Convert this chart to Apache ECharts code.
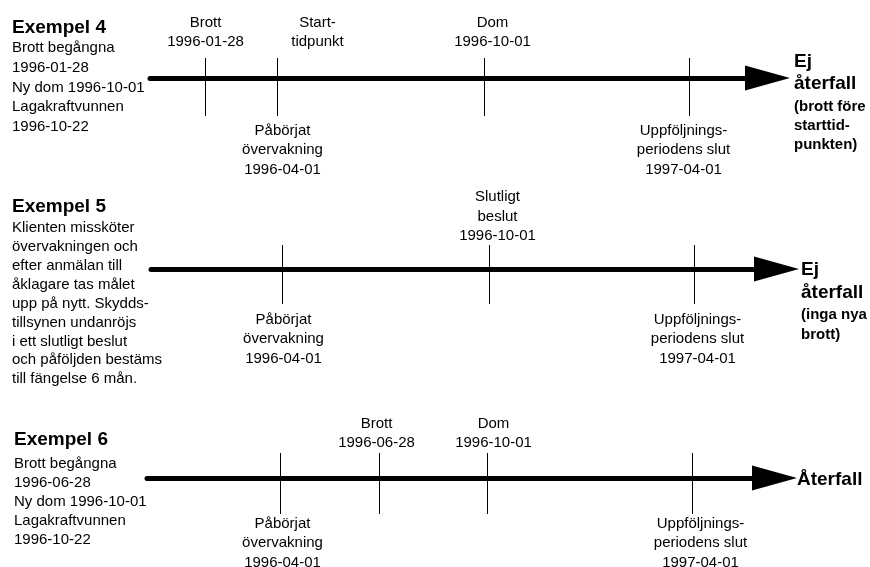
<!DOCTYPE html>
<html><head><meta charset="utf-8">
<script src="https://cdn.jsdelivr.net/npm/echarts@6/dist/echarts.min.js"></script>
<style>html,body{margin:0;padding:0;background:#fff}#c{width:870px;height:567px}</style>
</head><body><div id="c"></div>
<script>
// ---------------- data ----------------
const ex4Title = 'Exempel 4';
const ex4Text = ['Brott begångna', '1996-01-28', 'Ny dom 1996-10-01', 'Lagakraftvunnen', '1996-10-22'];
const ex4Dates = ['1996-01-28', '1996-04-01', '1996-10-01', '1997-04-01'];
const ex4Above = ['Brott\n1996-01-28', 'Start-\ntidpunkt', 'Dom\n1996-10-01', ''];
const ex4Below = ['', 'Påbörjat\növervakning\n1996-04-01', '', 'Uppföljnings-\nperiodens slut\n1997-04-01'];
const ex4Outcome = ['Ej', 'återfall'];
const ex4Note = ['(brott före', 'starttid-', 'punkten)'];

const ex5Title = 'Exempel 5';
const ex5Text = ['Klienten missköter', 'övervakningen och', 'efter anmälan till', 'åklagare tas målet',
  'upp på nytt. Skydds-', 'tillsynen undanröjs', 'i ett slutligt beslut', 'och påföljden bestäms', 'till fängelse 6 mån.'];
const ex5Dates = ['1996-04-01', '1996-10-01', '1997-04-01'];
const ex5Above = ['', 'Slutligt\nbeslut\n1996-10-01', ''];
const ex5Below = ['Påbörjat\növervakning\n1996-04-01', '', 'Uppföljnings-\nperiodens slut\n1997-04-01'];
const ex5Outcome = ['Ej', 'återfall'];
const ex5Note = ['(inga nya', 'brott)'];

const ex6Title = 'Exempel 6';
const ex6Text = ['Brott begångna', '1996-06-28', 'Ny dom 1996-10-01', 'Lagakraftvunnen', '1996-10-22'];
const ex6Dates = ['1996-04-01', '1996-06-28', '1996-10-01', '1997-04-01'];
const ex6Above = ['', 'Brott\n1996-06-28', 'Dom\n1996-10-01', ''];
const ex6Below = ['Påbörjat\növervakning\n1996-04-01', '', '', 'Uppföljnings-\nperiodens slut\n1997-04-01'];
const ex6Outcome = ['Återfall'];
const ex6Note = [];

const followUpStart = '1996-04-01';

// ---------------- layout / style ----------------
const FONT = '"Liberation Sans", Arial, Helvetica, sans-serif';
const PX_PER_DAY = 1.13, ARROW_LEN = 45, ARROW_W = 25, DAY = 864e5;
const LABEL_FONT = '15px ' + FONT, LABEL_LH = 19.5;
const TEXT_DY = 2;

const panels = [
  { title: ex4Title, text: ex4Text, dates: ex4Dates, above: ex4Above, below: ex4Below, outcome: ex4Outcome, note: ex4Note,
    lineY: 78, left: 150, tip: 790, anchorPx: 277, aboveDx: [0, 40, 8, 0], belowDx: [0, 5, 0, -6],
    aboveOff: -28, belowOff: 41, tickTop: -20, tickBot: 38,
    textX: 12, titleY: 26, textY: 46, textLH: 19.7,
    outX: 794, outY: 60, outLH: 22, noteY: 105, noteLH: 19 },
  { title: ex5Title, text: ex5Text, dates: ex5Dates, above: ex5Above, below: ex5Below, outcome: ex5Outcome, note: ex5Note,
    lineY: 269, left: 151, tip: 799, anchorPx: 282, aboveDx: [0, 8, 0], belowDx: [1, 0, 3],
    aboveOff: -25, belowOff: 39, tickTop: -24, tickBot: 35,
    textX: 12, titleY: 205, textY: 226, textLH: 18.9,
    outX: 801, outY: 268, outLH: 23, noteY: 313, noteLH: 20 },
  { title: ex6Title, text: ex6Text, dates: ex6Dates, above: ex6Above, below: ex6Below, outcome: ex6Outcome, note: ex6Note,
    lineY: 478, left: 147, tip: 797, anchorPx: 280, aboveDx: [0, -3, 6, 0], belowDx: [2, 0, 0, 8],
    aboveOff: -27, belowOff: 34, tickTop: -25, tickBot: 36,
    textX: 14, titleY: 438, textY: 462, textLH: 19,
    outX: 797, outY: 478, outLH: 22, noteY: 0, noteLH: 19 }
];

function localTime(s) { const a = s.split('-').map(Number); return new Date(a[0], a[1] - 1, a[2]).getTime(); }
const anchorT = localTime(followUpStart);

const grid = [], xAxis = [], yAxis = [], series = [], gfx = [];

function txt(text, x, yCenter, font, lh, align) {
  return { type: 'text', silent: true, style: { text: text, x: x, y: yCenter - lh / 2 + TEXT_DY, font: font, lineHeight: lh,
    fill: '#000', textAlign: align || 'left', textVerticalAlign: 'top' } };
}

panels.forEach((p, i) => {
  const lineEnd = p.tip - ARROW_LEN / 2;
  grid.push({ left: p.left, right: 870 - lineEnd, top: p.lineY - 40, height: 40 });
  xAxis.push({
    type: 'time', gridIndex: i,
    min: anchorT - (p.anchorPx - p.left) / PX_PER_DAY * DAY,
    max: anchorT + (lineEnd - p.anchorPx) / PX_PER_DAY * DAY,
    axisLine: { show: true, onZero: false, symbol: ['none', 'triangle'], symbolSize: [ARROW_W, ARROW_LEN],
      lineStyle: { color: '#000', width: 5 } },
    axisTick: { show: false }, axisLabel: { show: false }, splitLine: { show: false }, axisPointer: { show: false }
  });
  yAxis.push({ type: 'value', gridIndex: i, min: 0, max: 1, show: false });
  series.push({
    type: 'custom', xAxisIndex: i, yAxisIndex: i, silent: true,
    data: p.dates.map((d, j) => [d, j]),
    encode: { x: 0 },
    renderItem: function (params, api) {
      const j = api.value(1);
      const pt = api.coord([api.value(0), 0]);
      const x = Math.round(pt[0]) + 0.5, y = pt[1];
      const children = [{ type: 'line', shape: { x1: x, y1: y + p.tickTop, x2: x, y2: y + p.tickBot },
        style: { stroke: '#000', lineWidth: 1 } }];
      if (p.above[j]) children.push({ type: 'text', style: { text: p.above[j], x: x + p.aboveDx[j], y: y + p.aboveOff + TEXT_DY,
        textAlign: 'center', textVerticalAlign: 'bottom', font: LABEL_FONT, lineHeight: LABEL_LH, fill: '#000' } });
      if (p.below[j]) children.push({ type: 'text', style: { text: p.below[j], x: x + p.belowDx[j], y: y + p.belowOff + TEXT_DY,
        textAlign: 'center', textVerticalAlign: 'top', font: LABEL_FONT, lineHeight: LABEL_LH, fill: '#000' } });
      return { type: 'group', children: children };
    }
  });
  // left description
  gfx.push(txt(p.title, p.textX, p.titleY, 'bold 19px ' + FONT, 22));
  gfx.push(txt(p.text.join('\n'), p.textX, p.textY, '15px ' + FONT, p.textLH));
  // outcome at arrow
  gfx.push(txt(p.outcome.join('\n'), p.outX, p.outY, 'bold 19px ' + FONT, p.outLH));
  if (p.note.length) gfx.push(txt(p.note.join('\n'), p.outX, p.noteY, 'bold 15px ' + FONT, p.noteLH));
});

const chart = echarts.init(document.getElementById('c'), null, { renderer: 'canvas' });
chart.setOption({
  animation: false,
  backgroundColor: '#fff',
  grid: grid, xAxis: xAxis, yAxis: yAxis, series: series,
  graphic: { elements: gfx }
});
</script></body></html>
